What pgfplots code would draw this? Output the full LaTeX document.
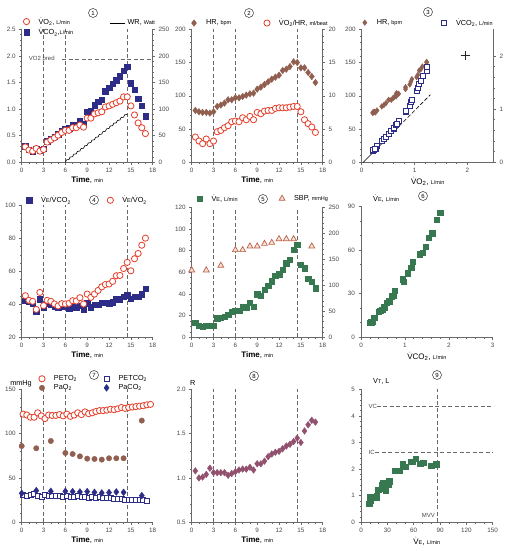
\documentclass[border=0pt]{standalone}
\usepackage{pgfplots}
\pgfplotsset{compat=1.18}
\usepackage{pgfplotstable}
\usepackage{fontspec}
\setmainfont{Liberation Sans}
\definecolor{cRed}{RGB}{228,62,42}
\definecolor{cNavy}{RGB}{45,45,135}
\definecolor{cBrown}{RGB}{145,95,80}
\definecolor{cGreen}{RGB}{55,120,80}
\definecolor{cPurple}{RGB}{145,80,110}
\definecolor{cAx}{RGB}{105,105,105}
\definecolor{cTick}{RGB}{70,70,70}
\definecolor{cTri}{RGB}{190,95,75}
\definecolor{cTriF}{RGB}{245,228,210}
\newcommand{\sm}[1]{{\fontsize{5.5}{6}\selectfont #1}}
\newcommand{\Vd}{$\dot{\mbox{V}}$}
\newcommand{\two}{\textsubscript{2}}
\newcommand{\cnum}[3]{\node[circle,draw=black!80,line width=0.5pt,minimum size=9pt,inner sep=0pt,font=\fontsize{6}{6}\selectfont] at (#1pt,#2pt) {#3};}
\tikzset{vl/.style={cAx, dash pattern=on 4pt off 2.5pt, line width=0.5pt}}

\pgfplotstableread{
t VO2 VCO2 HR O2HR VEVCO2 VEVO2 VE R
0.5 0.29 0.30 78 3.8 42.2 45.2 13.6 1.08
1.0 0.23 0.24 76 3.2 41.5 42.4 10.8 1.00
1.5 0.21 0.21 75 2.8 40.5 41.8 9.9 1.01
2.0 0.26 0.26 75 3.5 35.5 36.9 10.8 1.04
2.5 0.21 0.23 74 2.8 43.2 47.2 10.5 1.11
3.0 0.24 0.25 76 3.2 38.3 39.2 10.5 1.06
3.5 0.38 0.40 84 4.6 40.6 42.4 17.6 1.06
4.0 0.42 0.44 86 4.8 39.6 41.8 18.2 1.06
4.5 0.46 0.48 89 5.2 38.5 40.2 19.1 1.06
5.0 0.51 0.53 94 5.5 38.1 39.0 20.7 1.03
5.5 0.56 0.59 94 6.1 38.5 40.4 23.8 1.05
6.0 0.60 0.63 97 6.2 38.5 40.2 24.4 1.07
6.5 0.60 0.64 97 6.1 37.5 40.6 24.7 1.09
7.0 0.65 0.71 99 6.7 38.5 42.2 28.4 1.10
7.5 0.65 0.70 101 6.4 38.3 42.0 27.8 1.10
8.0 0.70 0.77 103 6.9 39.0 44.0 32.1 1.12
8.5 0.66 0.73 104 6.4 36.7 40.2 28.4 1.09
9.0 0.83 0.95 110 7.5 40.6 46.2 39.8 1.16
9.5 0.83 0.97 113 7.3 38.3 44.2 38.3 1.16
10.0 0.91 1.07 117 7.7 39.6 46.2 44.1 1.19
10.5 0.93 1.14 121 7.8 39.8 48.4 47.8 1.24
11.0 0.95 1.18 125 7.8 41.0 50.6 51.9 1.27
11.5 1.04 1.34 128 8.1 41.0 52.0 57.1 1.29
12.0 1.06 1.40 131 8.2 40.6 52.3 58.3 1.30
12.5 1.09 1.48 138 8.2 41.2 53.9 62.3 1.33
13.0 1.12 1.54 140 8.2 43.0 57.3 68.5 1.36
13.5 1.15 1.62 144 8.3 43.0 57.5 71.6 1.38
14.0 1.23 1.72 151 8.4 44.6 61.7 80.9 1.41
14.5 1.23 1.80 150 8.4 45.6 65.4 85.5 1.45
15.0 1.06 1.49 142 7.6 43.4 60.3 67.0 1.40
15.5 0.89 1.37 142 6.4 44.6 67.6 63.9 1.53
16.0 0.74 1.19 135 5.8 44.6 70.8 54.0 1.60
16.5 0.65 1.06 129 5.3 46.2 75.8 51.5 1.65
17.0 0.54 0.87 120 4.5 49.6 80.1 45.4 1.63
}\maindata

\pgfplotstableread{
t SBP
0 129
2 129
4 138
6 168
7 168
8 175
9 175
10 180
11 182
12 189
13 189
14 189
16.5 175
}\sbpdata

\pgfplotstableread{
t PaO2 PaCO2
0 86 32.7
2 83.5 35.7
4 91.7 35
6 78.2 35
7 77 34.6
8 74.4 34.2
9 71.8 34.6
10 71.4 33.8
11 70.7 33.1
12 72.2 33.5
13 72.2 34.2
14 72.2 33.8
16.5 114.7 30.1
}\gasdata

\pgfplotstableread{
t PETO2
0.2 122
0.7 121
1.2 118.5
1.7 118.5
2.2 123.5
2.7 120
3.2 117
3.7 121
4.2 120.5
4.7 120.5
5.2 121.5
5.7 120
6.2 122
6.7 119.5
7.2 121
7.7 123.5
8.2 121.5
8.7 124.5
9.2 122.5
9.7 123.5
10.2 125
10.7 126
11.2 126
11.7 126.5
12.2 127.5
12.7 127
13.2 128
13.7 129.5
14.2 128.5
14.7 129.5
15.2 130
15.7 130.5
16.2 131
16.7 131.5
17.2 132.5
17.7 133
}\petodata

\pgfplotstableread{
t PETCO2
0.2 30.5
0.7 29.7
1.2 31.5
1.7 31.8
2.2 30.2
2.7 28.8
3.2 30.5
3.7 29.5
4.2 30.0
4.7 29.5
5.2 29.8
5.7 29.0
6.2 29.5
6.7 29.2
7.2 28.8
7.7 29.5
8.2 28.5
8.7 28.8
9.2 28.0
9.7 28.5
10.2 27.8
10.7 28.2
11.2 27.5
11.7 27.8
12.2 27.2
12.7 26.5
13.2 26.8
13.7 26.0
14.2 25.8
14.7 25.5
15.2 25.8
15.7 25.2
16.2 25.5
16.7 24.8
17.2 24.0
}\petcodata

\pgfplotstableread{
VE VT
9.5 0.69
10.3 0.82
10.3 0.94
13.3 0.92
16.0 0.94
17.8 0.92
17.8 1.00
19.7 1.22
23.5 1.26
24.3 1.42
25.4 1.47
27.3 1.35
28.1 1.20
28.5 1.42
31.1 1.42
32.3 1.55
38.7 1.94
41.4 1.94
44.4 1.94
47.5 2.18
50.9 2.08
56.6 2.27
58.9 2.27
62.3 2.39
67.2 2.20
71.0 2.23
79.8 2.12
85.5 2.18
}\vtdata

\pgfplotsset{
  base/.style={scale only axis, width=131pt, height=133pt, anchor=south west, clip=false,
    axis x line*=bottom, axis y line*=left,
    axis line style={cAx, line width=0.6pt, -},
    tick align=outside, major tick length=2.5pt, minor tick length=1.4pt,
    tick style={cAx, line width=0.5pt},
    tick label style={font=\fontsize{6.3}{7}\selectfont, text=cTick},
    /pgf/number format/assume math mode=true,
    xlabel style={font=\fontsize{8}{9}\selectfont, yshift=3pt},
    legend style={draw=none, fill=none, font=\fontsize{7.3}{8}\selectfont, inner sep=0pt, outer sep=0pt, row sep=-1.5pt, cells={anchor=west}},
    legend image code/.code={\path[draw=none,fill=none] (0pt,-2pt) rectangle (13.5pt,2pt); \draw[##1] plot coordinates {(3.5pt,0pt)};},
  },
  rightax/.style={base, hide x axis, axis y line*=right},
  timeax/.style={xmin=0,xmax=18, xtick={0,3,6,9,12,15,18}, minor x tick num=2, xlabel={\textbf{Time}, \sm{min}}},
  fix1/.style={yticklabel style={/pgf/number format/.cd, fixed, fixed zerofill, precision=1}},
  mRed/.style={only marks, mark=*, mark size=3.1pt, mark options={draw=cRed, fill=white, line width=0.8pt}},
  mNavy/.style={only marks, mark=square*, mark size=2.7pt, mark options={draw=cNavy, fill=cNavy}},
  mNavyO/.style={only marks, mark=square*, mark size=2.5pt, mark options={draw=cNavy, fill=white, line width=0.7pt}},
  mBrownD/.style={only marks, mark=diamond*, mark size=3.3pt, mark options={draw=cBrown, fill=cBrown}},
  mGreen/.style={only marks, mark=square*, mark size=2.7pt, mark options={draw=cGreen, fill=cGreen}},
  mTri/.style={only marks, mark=triangle*, mark size=3.4pt, mark options={draw=cTri, fill=cTriF, line width=0.7pt}},
  mPurp/.style={only marks, mark=diamond*, mark size=3.3pt, mark options={draw=cPurple, fill=cPurple}},
  mBrownC/.style={only marks, mark=*, mark size=2.7pt, mark options={draw=cBrown, fill=cBrown}},
  mNavyD/.style={only marks, mark=diamond*, mark size=3.4pt, mark options={draw=cNavy, fill=cNavy}},
}

\begin{document}
\begin{tikzpicture}
\useasboundingbox (0,0) rectangle (507pt,551pt);

% ---------- Panel 1 ----------
\begin{axis}[base, timeax, at={(21.7pt,388.7pt)}, ymin=0, ymax=2.5, ytick={0,0.5,1,1.5,2,2.5}, minor y tick num=4, fix1,
  legend style={at={(axis description cs:0.01,1.104)}, anchor=north west}]
\addlegendimage{mRed}\addlegendentry{\Vd O\two, \sm{L/min}}
\addlegendimage{mNavy}\addlegendentry{\Vd CO\two,\sm{L/min}}
\draw[vl] (axis cs:3,0) -- (axis cs:3,2.5);
\draw[vl] (axis cs:6,0) -- (axis cs:6,2.5);
\draw[vl] (axis cs:14.5,0) -- (axis cs:14.5,2.5);
\draw[vl] (axis cs:5.6,1.94) -- (axis cs:18,1.94);
\node[anchor=west, font=\fontsize{6}{6}\selectfont, text=cTick, inner sep=0.5pt] at (axis cs:0.9,1.94) {VO2 pred};
\addplot[mNavy, forget plot] table[x=t,y=VCO2]{\maindata};
\addplot[mRed, forget plot] table[x=t,y=VO2]{\maindata};
\end{axis}
\begin{axis}[rightax, at={(21.7pt,388.7pt)}, xmin=0,xmax=18, ymin=0,ymax=250, ytick={0,50,100,150,200,250}, minor y tick num=4,
  legend style={at={(axis description cs:0.674,1.047)}, anchor=west},
  legend image code/.code={\draw[#1] (0pt,0pt) -- (15pt,0pt);}]
\addplot[black, line width=0.6pt] coordinates {(6,0)(6.15,4.5)(6.5,5.3)(6.65,9.8)(7,10.6)(7.15,15.1)(7.5,15.9)(7.65,20.4)(8,21.2)(8.15,25.7)(8.5,26.5)(8.65,31)(9,31.8)(9.15,36.3)(9.5,37.1)(9.65,41.6)(10,42.4)(10.15,46.9)(10.5,47.7)(10.65,52.2)(11,53)(11.15,57.5)(11.5,58.3)(11.65,62.8)(12,63.6)(12.15,68.1)(12.5,68.9)(12.65,73.4)(13,74.2)(13.15,78.7)(13.5,79.5)(13.65,84)(14,84.8)(14.15,89.3)(14.5,90)};
\addlegendentry{WR, \sm{Watt}}
\end{axis}
\cnum{93}{538}{1}

% ---------- Panel 2 ----------
\begin{axis}[base, timeax, at={(191.7pt,388.7pt)}, ymin=0, ymax=200, ytick={0,50,100,150,200}, minor y tick num=4,
  legend style={at={(axis description cs:-0.009,1.047)}, anchor=west}]
\draw[vl] (axis cs:3,0) -- (axis cs:3,200);
\draw[vl] (axis cs:6,0) -- (axis cs:6,200);
\draw[vl] (axis cs:14.5,0) -- (axis cs:14.5,200);
\addplot[mBrownD] table[x=t,y=HR]{\maindata};
\addlegendentry{HR, \sm{bpm}}
\end{axis}
\begin{axis}[rightax, at={(191.7pt,388.7pt)}, xmin=0,xmax=18, ymin=0,ymax=20, ytick={0,5,10,15,20}, minor y tick num=4,
  legend style={at={(axis description cs:0.548,1.047)}, anchor=west}]
\addplot[mRed] table[x=t,y=O2HR]{\maindata};
\addlegendentry{\Vd O\two/HR, \sm{ml/beat}}
\end{axis}
\cnum{249}{538}{2}

% ---------- Panel 3 ----------
\begin{axis}[base, at={(361.7pt,388.7pt)}, width=132pt, xmin=0, xmax=2.5, xtick={0,1,2}, minor x tick num=4,
  ymin=0, ymax=200, ytick={0,50,100,150,200}, minor y tick num=4,
  xlabel={\Vd O\two, \sm{L/min}},
  legend style={at={(axis description cs:-0.003,1.05)}, anchor=west}]
\addplot[mBrownD, mark size=2.8pt, skip coords between index={29}{34}] table[x=VO2,y=HR]{\maindata};
\addlegendentry{HR, \sm{bpm}}
\end{axis}
\begin{axis}[rightax, at={(361.7pt,388.7pt)}, width=132pt, xmin=0, xmax=2.5, ymin=0, ymax=2.5, ytick={0,1,2}, minor y tick num=4,
  legend style={at={(axis description cs:0.597,1.05)}, anchor=west}]
\addplot[black, line width=0.6pt, forget plot] coordinates {(0.03,0) (0.71,0.68)};
\addplot[black, line width=0.6pt, dash pattern=on 4pt off 2pt, forget plot] coordinates {(0.71,0.68) (1.3,1.27)};
\addplot[only marks, mark=+, mark size=4.5pt, mark options={line width=1.2pt, draw=black!85}, forget plot] coordinates {(1.96,2.0)};
\addplot[mNavyO, skip coords between index={29}{34}] table[x=VO2,y=VCO2]{\maindata};
\addlegendentry{\Vd CO\two, \sm{L/min}}
\end{axis}
\cnum{428}{539}{3}

% ---------- Panel 4 ----------
\begin{axis}[base, timeax, at={(21.7pt,213.7pt)}, height=132pt, ymin=20, ymax=100, ytick={20,40,60,80,100}, minor y tick num=3,
  legend columns=2, legend style={at={(axis description cs:0.03,1.038)}, anchor=west, /tikz/column 2/.style={column sep=34pt}}]
\addlegendimage{mNavy}\addlegendentry{\Vd{\sm{E}}/\Vd CO\two}
\addlegendimage{mRed}\addlegendentry{\Vd{\sm{E}}/\Vd O\two}
\draw[vl] (axis cs:3,20) -- (axis cs:3,100);
\draw[vl] (axis cs:6,20) -- (axis cs:6,100);
\draw[vl] (axis cs:14.5,20) -- (axis cs:14.5,100);
\addplot[mNavy, forget plot] table[x=t,y=VEVCO2]{\maindata};
\addplot[mRed, forget plot] table[x=t,y=VEVO2]{\maindata};
\end{axis}
\cnum{94}{351}{4}

% ---------- Panel 5 ----------
\begin{axis}[base, timeax, at={(191.7pt,213.7pt)}, height=130pt, ymin=0, ymax=120, ytick={0,20,40,60,80,100,120}, minor y tick num=3,
  legend style={at={(axis description cs:0.033,1.067)}, anchor=west}]
\draw[vl] (axis cs:3,0) -- (axis cs:3,120);
\draw[vl] (axis cs:6,0) -- (axis cs:6,120);
\draw[vl] (axis cs:14.5,0) -- (axis cs:14.5,120);
\addplot[mGreen] table[x=t,y=VE]{\maindata};
\addlegendentry{\Vd{\sm{E}}, \sm{L/min}}
\end{axis}
\begin{axis}[rightax, at={(191.7pt,213.7pt)}, height=130pt, xmin=0,xmax=18, ymin=0,ymax=250, ytick={0,50,100,150,200,250}, minor y tick num=4,
  legend style={at={(axis description cs:0.663,1.067)}, anchor=west}]
\addplot[mTri] table[x=t,y=SBP]{\sbpdata};
\addlegendentry{SBP, \sm{mmHg}}
\end{axis}
\cnum{263}{352}{5}

% ---------- Panel 6 ----------
\begin{axis}[base, at={(361pt,213.7pt)}, height=131pt, width=131.7pt, xmin=0, xmax=3, xtick={0,1,2,3}, minor x tick num=4,
  ymin=0, ymax=90, ytick={0,30,60,90}, minor y tick num=2,
  xlabel={\Vd CO\two, \sm{L/min}}]
\addplot[mGreen, skip coords between index={29}{34}] table[x=VCO2,y=VE]{\maindata};
\end{axis}
\node[anchor=west, font=\fontsize{7.3}{8}\selectfont, inner sep=0pt] at (373pt,352pt) {\Vd{\sm{E}}, \sm{L/min}};
\cnum{423}{355}{6}

% ---------- Panel 7 ----------
\begin{axis}[base, timeax, at={(21.7pt,28.7pt)}, ymin=0, ymax=150, ytick={0,50,100,150}, minor y tick num=4,
  legend columns=2, legend style={at={(axis description cs:0.128,1.119)}, anchor=north west, /tikz/column 2/.style={column sep=24pt}}]
\addlegendimage{mRed}\addlegendentry{PETO\two}
\addlegendimage{mNavyO}\addlegendentry{PETCO\two}
\addlegendimage{mBrownC}\addlegendentry{PaO\two}
\addlegendimage{mNavyD}\addlegendentry{PaCO\two}
\draw[vl] (axis cs:3,0) -- (axis cs:3,150);
\draw[vl] (axis cs:6,0) -- (axis cs:6,150);
\draw[vl] (axis cs:14.5,0) -- (axis cs:14.5,150);
\addplot[mNavyO, forget plot] table[x=t,y=PETCO2]{\petcodata};
\addplot[mNavyD, forget plot] table[x=t,y=PaCO2]{\gasdata};
\addplot[mBrownC, forget plot] table[x=t,y=PaO2]{\gasdata};
\addplot[mRed, forget plot] table[x=t,y=PETO2]{\petodata};
\end{axis}
\node[font=\fontsize{7.3}{8}\selectfont, inner sep=0pt] at (21pt,167pt) {mmHg};
\cnum{94}{176}{7}

% ---------- Panel 8 ----------
\begin{axis}[base, timeax, at={(191.7pt,28.7pt)}, ymin=0.5, ymax=2, ytick={0.5,1,1.5,2}, minor y tick num=4, fix1]
\draw[vl] (axis cs:3,0.5) -- (axis cs:3,2);
\draw[vl] (axis cs:6,0.5) -- (axis cs:6,2);
\draw[vl] (axis cs:14.5,0.5) -- (axis cs:14.5,2);
\addplot[mPurp] table[x=t,y=R]{\maindata};
\end{axis}
\node[font=\fontsize{7.3}{8}\selectfont, inner sep=0pt] at (192.7pt,168.3pt) {R};
\cnum{254}{175}{8}

% ---------- Panel 9 ----------
\begin{axis}[base, at={(361pt,28.7pt)}, width=131.7pt, xmin=0, xmax=150, xtick={0,30,60,90,120,150}, minor x tick num=2,
  ymin=0, ymax=5, ytick={0,1,2,3,4,5}, minor y tick num=4,
  xlabel={\Vd{\sm{E}}, \sm{L/min}}]
\draw[vl] (axis cs:18,4.37) -- (axis cs:150,4.37);
\draw[vl] (axis cs:16,2.62) -- (axis cs:150,2.62);
\draw[vl] (axis cs:86.6,0) -- (axis cs:86.6,5);
\node[anchor=west, font=\fontsize{6}{6}\selectfont, text=cTick, inner sep=0.5pt] at (axis cs:8,4.37) {VC};
\node[anchor=west, font=\fontsize{6}{6}\selectfont, text=cTick, inner sep=0.5pt] at (axis cs:8,2.62) {IC};
\node[anchor=east, font=\fontsize{6}{6}\selectfont, text=cTick, inner sep=0.5pt] at (axis cs:85,0.25) {MVV};
\addplot[mGreen] table[x=VE,y=VT]{\vtdata};
\end{axis}
\node[anchor=west, font=\fontsize{7.3}{8}\selectfont, inner sep=0pt] at (373pt,169.3pt) {V\sm{T}, L};
\cnum{437}{176}{9}
\end{tikzpicture}
\end{document}
